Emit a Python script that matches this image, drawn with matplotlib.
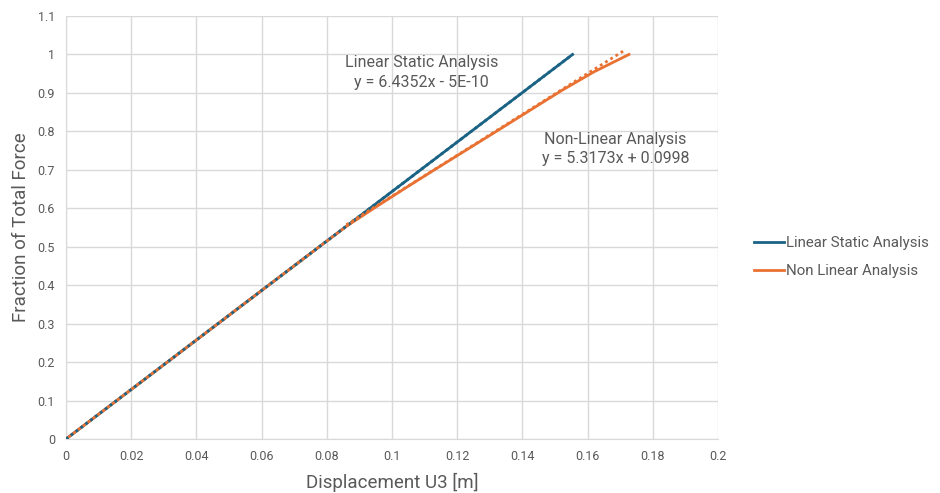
import matplotlib.pyplot as plt
import numpy as np

plt.rcParams['font.family'] = ['Roboto', 'DejaVu Sans']

# load fraction vs displacement
lin_x = [0, 0.01554, 0.03108, 0.04662, 0.06216, 0.0777, 0.09324, 0.10878, 0.12432, 0.13986, 0.1554]
lin_y = [0, 0.1, 0.2, 0.3, 0.4, 0.5, 0.6, 0.7, 0.8, 0.9, 1.0]

nl_x = [0, 0.01554, 0.03108, 0.04662, 0.06216, 0.0777, 0.0860, 0.0950, 0.1040, 0.1130,
        0.1225, 0.1320, 0.1420, 0.1520, 0.1620, 0.1727]
nl_y = [0, 0.1, 0.2, 0.3, 0.4, 0.5, 0.553, 0.603, 0.652, 0.700,
        0.750, 0.800, 0.853, 0.906, 0.955, 1.0]

# trendline coefficients (slope, intercept) and x range
lin_fit = (6.4352, -5e-10)
lin_fit_range = (0, 0.1554)
nl_fit = (5.3173, 0.0998)
nl_fit_range = (0.086, 0.1717)

blue = '#1B6385'
orange = '#E97132'
grey = '#595959'

fig = plt.figure(figsize=(9.4, 4.93), dpi=100)
ax = fig.add_axes([66 / 940, 1 - 439 / 493, (718 - 66) / 940, (439 - 16) / 493])

ax.plot(lin_x, lin_y, color=blue, lw=2, label='Linear Static Analysis', zorder=3)
ax.plot(nl_x, nl_y, color=orange, lw=2, label='Non Linear Analysis', zorder=4)

xs = np.array(lin_fit_range)
ax.plot(xs, lin_fit[0] * xs + lin_fit[1], color=blue, lw=2,
        linestyle=(0, (1, 1.2)), zorder=5)
xs = np.array(nl_fit_range)
ax.plot(xs, nl_fit[0] * xs + nl_fit[1], color=orange, lw=2,
        linestyle=(0, (1, 1.2)), zorder=6)

ax.set_xlim(0, 0.2)
ax.set_ylim(0, 1.1)
ax.set_xticks(np.arange(0, 0.201, 0.02))
ax.set_yticks(np.arange(0, 1.101, 0.1))
ax.set_xticklabels(['0', '0.02', '0.04', '0.06', '0.08', '0.1', '0.12', '0.14', '0.16', '0.18', '0.2'])
ax.set_yticklabels(['0', '0.1', '0.2', '0.3', '0.4', '0.5', '0.6', '0.7', '0.8', '0.9', '1', '1.1'])
ax.tick_params(length=0, labelsize=9, colors=grey, pad=8)
ax.grid(True, color='#D9D9D9', lw=1)
ax.set_axisbelow(True)
for s in ['top', 'right']:
    ax.spines[s].set_visible(False)
for s in ['left', 'bottom']:
    ax.spines[s].set_color('#D9D9D9')

ax.set_xlabel('Displacement U3 [m]', fontsize=13.5, color=grey, labelpad=7)
ax.set_ylabel('Fraction of Total Force', fontsize=13.5, color=grey, labelpad=5)

ax.text(0.1091, 0.953, 'Linear Static Analysis\ny = 6.4352x - 5E-10', ha='center', va='center',
        fontsize=11.5, color=grey, linespacing=1.35)
ax.text(0.1685, 0.755, 'Non-Linear Analysis\ny = 5.3173x + 0.0998', ha='center', va='center',
        fontsize=11.5, color=grey, linespacing=1.35)

leg = ax.legend(loc='center left', bbox_to_anchor=(1.035, 0.43), frameon=False,
                fontsize=10.8, handlelength=2.0, handletextpad=0.1, labelspacing=0.95)
for t in leg.get_texts():
    t.set_color(grey)

fig.savefig('out.png', dpi=100)
